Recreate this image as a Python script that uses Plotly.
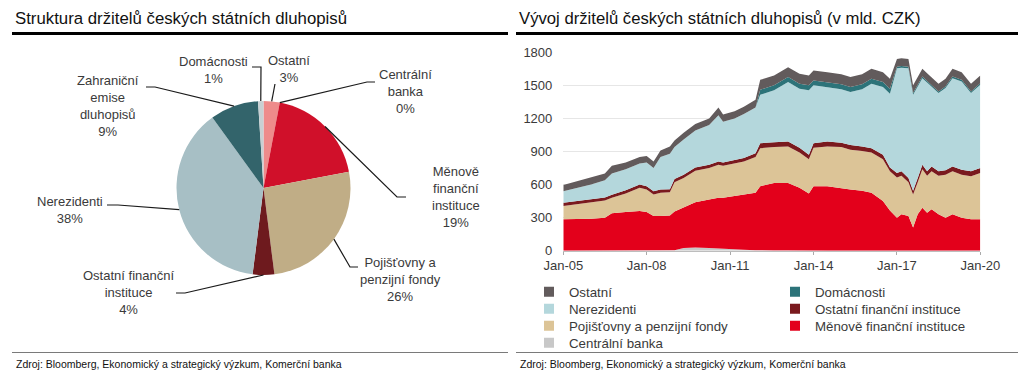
import math
import plotly.graph_objects as go

W, H = 1024, 381

# ---------------- Pie data ----------------
pie_labels = ["Ostatní", "Centrální banka", "Měnově finanční instituce",
              "Pojišťovny a penzijní fondy", "Ostatní finanční instituce",
              "Nerezidenti", "Zahraniční emise dluhopisů", "Domácnosti"]
pie_label_text = ["Ostatní", "Centrální<br>banka", "Měnově<br>finanční<br>instituce",
                  "Pojišťovny a<br>penzijní fondy", "Ostatní finanční<br>instituce",
                  "Nerezidenti", "Zahraniční<br>emise<br>dluhopisů", "Domácnosti"]
pie_values = [3, 0, 19, 26, 4, 38, 9, 1]
pie_colors = ["#ee8b8b", "#c9c9c9", "#d0102a", "#c0ad86", "#6e1a1e",
              "#a7bfc5", "#33646b", "#c8d0d3"]

# ---------------- Area chart data (mld. CZK) ----------------
dates = ["2005-01-01", "2005-07-01", "2006-01-01", "2006-07-01", "2006-10-01",
         "2007-04-01", "2007-10-01", "2008-01-01", "2008-04-01", "2008-07-01",
         "2008-11-01", "2009-01-01", "2009-05-01", "2009-10-01", "2010-04-01",
         "2010-08-01", "2010-10-01", "2011-03-01", "2011-07-01", "2011-12-01",
         "2012-02-01", "2012-08-01", "2013-02-01", "2013-07-01", "2013-11-01",
         "2014-01-01", "2014-07-01", "2015-01-01", "2015-05-01", "2015-10-01",
         "2016-02-01", "2016-07-01", "2016-10-01", "2017-01-01", "2017-03-01",
         "2017-06-01", "2017-08-01", "2017-10-01", "2017-12-01", "2018-02-01",
         "2018-04-01", "2018-07-01", "2018-10-01", "2019-01-01", "2019-05-01",
         "2019-09-01", "2020-01-01"]
centralni_banka = [0, 0, 0, 0, 0, 0, 0, 0, 0, 0, 0, 5, 25, 30, 25, 20, 15, 10, 8, 5,
                   3, 2, 2, 0, 0, 0, 0, 0, 0, 0, 0, 0, 0, 0, 0, 0, 0, 0, 0, 0,
                   0, 0, 0, 0, 0, 0, 0]
menove_fi = [285, 285, 290, 300, 340, 350, 360, 350, 315, 315, 320, 350, 365, 410, 440,
             460, 465, 485, 502, 520, 582, 613, 613, 570, 520, 585, 585, 565, 555, 545,
             525, 450, 365, 300, 330, 315, 210, 330, 390, 345, 375, 330, 300, 330, 300,
             285, 285]
pojistovny = [120, 135, 150, 155, 140, 170, 210, 205, 195, 210, 210, 265, 270, 285, 285,
              300, 290, 295, 300, 325, 345, 325, 330, 320, 310, 350, 360, 375, 360, 360,
              365, 380, 355, 365, 350, 305, 300, 290, 350, 335, 345, 350, 390, 390, 390,
              390, 420]
ostatni_fi = [30, 30, 28, 27, 28, 28, 30, 30, 30, 30, 28, 30, 30, 30, 30, 30, 30, 30, 30, 35,
              45, 45, 45, 45, 40, 40, 45, 40, 45, 40, 40, 40, 35, 40, 40, 40, 35, 40, 40, 40,
              45, 40, 40, 45, 45, 45, 45]
nerezidenti = [105, 120, 132, 158, 192, 192, 190, 215, 210, 295, 322, 290, 320, 335, 360,
               420, 370, 380, 400, 415, 440, 470, 540, 535, 585, 525, 495, 485, 480, 520,
               585, 615, 670, 950, 940, 995, 870, 835, 785, 805, 725, 710, 745, 800, 800,
               710, 755]
domacnosti = [0, 0, 0, 0, 0, 0, 0, 0, 0, 0, 0, 0, 0, 0, 0, 0, 0, 0, 0, 0,
              45, 45, 45, 45, 45, 45, 45, 45, 45, 45, 45, 45, 45, 15, 15, 15, 15, 15, 15, 15,
              15, 15, 15, 15, 15, 15, 15]
ostatni = [55, 60, 60, 60, 70, 60, 60, 60, 60, 60, 65, 60, 60, 60, 60, 70, 65, 65, 65, 70,
           90, 90, 90, 90, 90, 90, 90, 90, 90, 90, 90, 90, 90, 70, 70, 70, 70, 70, 70, 70,
           70, 70, 70, 70, 70, 70, 70]

x_tick_vals = ["2005-01-01", "2008-01-01", "2011-01-01", "2014-01-01", "2017-01-01", "2020-01-01"]
x_tick_text = ["Jan-05", "Jan-08", "Jan-11", "Jan-14", "Jan-17", "Jan-20"]
y_tick_vals = [0, 300, 600, 900, 1200, 1500, 1800]

series = [
    ("Centrální banka", centralni_banka, "#c8c8c8"),
    ("Měnově finanční instituce", menove_fi, "#e3001b"),
    ("Pojišťovny a penzijní fondy", pojistovny, "#dcc497"),
    ("Ostatní finanční instituce", ostatni_fi, "#7a1a1e"),
    ("Nerezidenti", nerezidenti, "#b4d7dc"),
    ("Domácnosti", domacnosti, "#2c7379"),
    ("Ostatní", ostatni, "#625b5c"),
]
# legend layout: (name, left x px, row centre y px)
legend_layout = [
    ("Ostatní", 529, 292), ("Nerezidenti", 529, 309),
    ("Pojišťovny a penzijní fondy", 529, 326), ("Centrální banka", 529, 343),
    ("Domácnosti", 775, 292), ("Ostatní finanční instituce", 775, 309),
    ("Měnově finanční instituce", 775, 326),
]

FONT = "Liberation Sans, Arial, sans-serif"
TXT = "#3a3a3a"


def px(x):
    return x / W


def py(y):
    return 1 - y / H


fig = go.Figure()

# ---------------- Pie ----------------
pie_cx, pie_cy, pie_r = 263.5, 188.0, 87.0
fig.add_trace(go.Pie(
    labels=pie_labels, values=pie_values, sort=False, direction="clockwise",
    rotation=0, textinfo="none", hoverinfo="label+percent", showlegend=False,
    marker=dict(colors=pie_colors, line=dict(width=0)),
    domain=dict(x=[px(pie_cx - pie_r), px(pie_cx + pie_r)],
                y=[py(pie_cy + pie_r), py(pie_cy - pie_r)]),
))

# label layout: centre of text block, and leader line bend points (px)
label_pos = [(289, 69), (405, 92), (456, 197), (400, 279), (128, 292),
             (70, 210), (108, 106), (213, 70)]
leader_pts = [[(275, 84)], [(367, 82), (375, 82)], [(397, 197), (406, 197)],
              [(350, 267), (358, 267)], [(185, 293), (176, 293)],
              [(118, 205), (107, 205)], [(155, 87), (146, 87)],
              [(261, 67), (252, 67)]]

total = sum(pie_values)
cum = 0
shapes = []
annotations = []
for i, v in enumerate(pie_values):
    mid = (cum + v / 2) / total * 2 * math.pi
    cum += v
    ex = pie_cx + pie_r * math.sin(mid)
    ey = pie_cy - pie_r * math.cos(mid)
    pts = [(ex, ey)] + leader_pts[i]
    path = "M " + " L ".join(f"{px(a):.5f},{py(b):.5f}" for a, b in pts)
    shapes.append(dict(type="path", path=path, xref="paper", yref="paper",
                       line=dict(color="#1a1a1a", width=1.2)))
    lx, ly = label_pos[i]
    annotations.append(dict(text=f"{pie_label_text[i]}<br>{v}%", x=px(lx), y=py(ly),
                            xref="paper", yref="paper", xanchor="center", yanchor="middle",
                            showarrow=False, align="center",
                            font=dict(family=FONT, size=13, color=TXT)))

# ---------------- Stacked area ----------------
for name, vals, col in series:
    fig.add_trace(go.Scatter(x=dates, y=vals, name=name, stackgroup="one",
                             mode="lines", line=dict(width=0, color=col),
                             fillcolor=col, showlegend=False,
                             xaxis="x", yaxis="y"))

color_of = {s[0]: s[2] for s in series}
legend_defs = {}
for k, (name, lx, ly) in enumerate(legend_layout):
    lid = "legend" if k == 0 else f"legend{k + 1}"
    fig.add_trace(go.Scatter(x=[None], y=[None], name=name, mode="markers",
                             marker=dict(symbol="square", size=10, color=color_of[name]),
                             legend=lid, xaxis="x", yaxis="y"))
    legend_defs[lid] = dict(x=px(lx), y=py(ly), xanchor="left", yanchor="middle",
                            orientation="v", bgcolor="rgba(0,0,0,0)", borderwidth=0,
                            itemwidth=30, traceorder="normal",
                            font=dict(family=FONT, size=13.3, color=TXT))

# ---------------- Titles, rules, sources ----------------
annotations += [
    dict(text="Struktura držitelů českých státních dluhopisů", x=px(13), y=py(18),
         xanchor="left", yanchor="middle", showarrow=False, xref="paper", yref="paper",
         font=dict(family=FONT, size=16.8, color="#111")),
    dict(text="Vývoj držitelů českých státních dluhopisů (v mld. CZK)", x=px(517), y=py(18),
         xanchor="left", yanchor="middle", showarrow=False, xref="paper", yref="paper",
         font=dict(family=FONT, size=16.7, color="#111")),
    dict(text="Zdroj: Bloomberg, Ekonomický a strategický výzkum, Komerční banka",
         x=px(14), y=py(364), xanchor="left", yanchor="middle", showarrow=False,
         xref="paper", yref="paper", font=dict(family=FONT, size=10.5, color="#111")),
    dict(text="Zdroj: Bloomberg, Ekonomický a strategický výzkum, Komerční banka",
         x=px(518), y=py(364), xanchor="left", yanchor="middle", showarrow=False,
         xref="paper", yref="paper", font=dict(family=FONT, size=10.5, color="#111")),
]
for x0, x1 in [(12, 508), (516, 1018)]:
    shapes.append(dict(type="line", xref="paper", yref="paper", x0=px(x0), x1=px(x1),
                       y0=py(33.5), y1=py(33.5), line=dict(color="#000", width=3)))
    shapes.append(dict(type="line", xref="paper", yref="paper", x0=px(x0), x1=px(x1),
                       y0=py(352.5), y1=py(352.5), line=dict(color="#7a7a7a", width=1.2)))

fig.update_layout(
    width=W, height=H, margin=dict(l=0, r=0, t=0, b=0, autoexpand=False),
    paper_bgcolor="white", plot_bgcolor="white",
    font=dict(family=FONT, color=TXT),
    shapes=shapes, annotations=annotations,
    xaxis=dict(domain=[px(563.3), px(980.3)], type="date", automargin=False,
               range=["2005-01-01", "2020-01-01"], tickvals=x_tick_vals,
               ticktext=x_tick_text, showgrid=False, zeroline=False,
               showline=True, linecolor="#bdbdbd", linewidth=1,
               ticks="outside", ticklen=3, tickcolor="#aaaaaa",
               tickfont=dict(family=FONT, size=13, color=TXT)),
    yaxis=dict(domain=[py(250.7), py(52.3)], range=[0, 1800], tickvals=y_tick_vals,
               automargin=False,
               showgrid=True, gridcolor="#e6e6e6", gridwidth=1, zeroline=False,
               showline=False, ticks="", ticklabelstandoff=10,
               tickfont=dict(family=FONT, size=13, color=TXT)),
    **legend_defs,
)

fig.write_html("out.html", config={"displayModeBar": False},
               post_script="document.body.style.margin='0px';document.body.style.overflow='hidden';")
